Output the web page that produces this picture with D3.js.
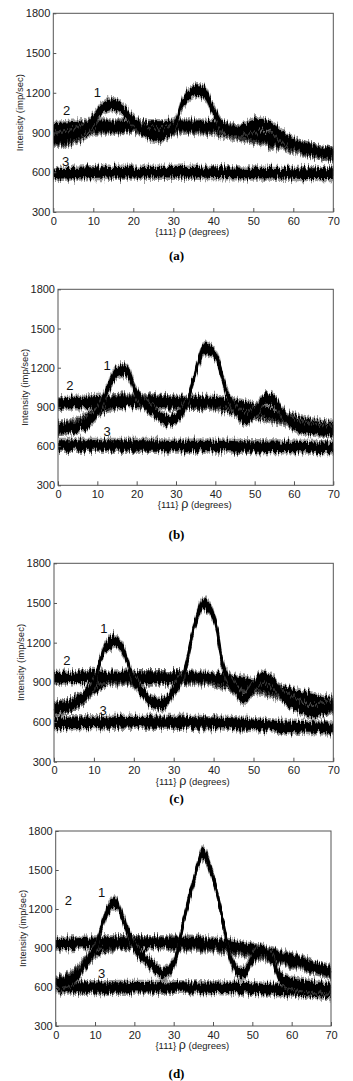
<!DOCTYPE html>
<html>
<head>
<meta charset="utf-8">
<script src="https://cdn.jsdelivr.net/npm/d3@7"></script>
<style>
  html, body { margin: 0; padding: 0; background: #fff; }
  svg { display: block; }
</style>
</head>
<body>
<div id="chart"></div>
<script>
// rho sampling (degrees) shared by all series
const rho = [0, 2.5, 5, 7.5, 10, 12.5, 15, 17.5, 20, 22.5, 25, 27.5, 30, 32.5, 35,
  37.5, 40, 42.5, 45, 47.5, 50, 52.5, 55, 57.5, 60, 62.5, 65, 67.5, 70]
const xTicks = [0, 10, 20, 30, 40, 50, 60, 70]
const yTicks = [300, 600, 900, 1200, 1500, 1800]
const panelNames = ['(a)', '(b)', '(c)', '(d)']
const curveNames = ['1', '2', '3']
// half width of the measurement noise band (imp/sec)
const noiseAmp = 40

// (a)
const a1 = [850, 860, 880, 920, 990, 1085, 1110, 1070, 985, 920, 880, 885, 940, 1130, 1210,
  1205, 1070, 940, 910, 925, 955, 960, 925, 865, 815, 785, 765, 750, 735]
const a2 = [930, 935, 940, 945, 950, 950, 950, 948, 945, 945, 945, 945, 948, 950, 950,
  948, 945, 935, 915, 900, 885, 865, 845, 825, 805, 785, 765, 750, 735]
const a3 = [590, 592, 593, 595, 597, 598, 600, 600, 601, 600, 600, 600, 600, 600, 600,
  598, 597, 596, 595, 594, 594, 593, 592, 592, 591, 590, 590, 590, 590]
const a4 = [840, 845, 860, 895, 930, 940, 945, 945, 940, 935, 930, 930, 935, 940, 940,
  935, 925, 910, 895, 880, 865, 850, 830, 810, 790, 775, 760, 745, 730]
// (b)
const b1 = [736, 740, 750, 785, 865, 1030, 1165, 1170, 1000, 910, 850, 800, 815, 910, 1170,
  1350, 1300, 1050, 880, 810, 855, 960, 945, 830, 765, 740, 730, 720, 715]
const b2 = [925, 928, 930, 932, 935, 938, 940, 940, 940, 940, 940, 938, 935, 935, 935,
  935, 935, 930, 915, 900, 885, 865, 845, 820, 795, 775, 760, 750, 745]
const b3 = [605, 605, 605, 605, 605, 605, 605, 605, 605, 605, 605, 600, 600, 600, 600,
  600, 600, 600, 598, 597, 596, 595, 595, 594, 593, 592, 590, 588, 586]
const b4 = [736, 745, 770, 810, 870, 915, 940, 950, 950, 948, 945, 940, 935, 935, 935,
  930, 920, 900, 880, 860, 850, 840, 825, 805, 780, 760, 745, 730, 720]
// (c)
const c1 = [703, 715, 740, 790, 890, 1140, 1215, 1130, 920, 815, 745, 740, 840, 960, 1300,
  1495, 1400, 1010, 865, 780, 865, 940, 895, 790, 740, 700, 675, 700, 725]
const c2 = [930, 932, 935, 935, 938, 940, 940, 940, 938, 935, 935, 935, 935, 938, 940,
  940, 935, 925, 910, 895, 880, 865, 850, 830, 810, 790, 770, 755, 740]
const c3 = [595, 595, 595, 595, 595, 596, 597, 598, 598, 598, 597, 597, 597, 597, 597,
  596, 595, 592, 588, 584, 580, 575, 570, 566, 562, 560, 558, 556, 555]
const c4 = [700, 715, 740, 790, 860, 905, 925, 930, 935, 935, 935, 935, 935, 935, 930,
  925, 915, 900, 880, 865, 855, 845, 830, 810, 790, 765, 740, 715, 700]
// (d)
const d1 = [628, 641, 680, 780, 890, 1140, 1255, 1090, 910, 820, 755, 705, 780, 1110, 1400,
  1625, 1450, 1110, 780, 705, 810, 885, 810, 660, 630, 615, 605, 595, 585]
const d2 = [930, 932, 935, 938, 940, 942, 942, 942, 942, 940, 940, 940, 940, 938, 938,
  935, 932, 925, 915, 900, 885, 865, 850, 830, 810, 790, 760, 740, 720]
const d3v = [600, 598, 597, 596, 595, 595, 596, 597, 598, 598, 597, 597, 596, 596, 595,
  595, 594, 593, 592, 590, 588, 585, 582, 578, 575, 570, 565, 560, 555]
const d4 = [628, 650, 700, 790, 870, 915, 935, 940, 940, 940, 940, 938, 935, 932, 930,
  925, 915, 905, 895, 880, 870, 855, 840, 820, 800, 780, 755, 735, 715]

// curve label anchors [rho, intensity] for curves 1, 2, 3
const labelsA = [[11, 1200], [3.3, 1070], [3.1, 685]]
const labelsB = [[12.5, 1220], [3.0, 1068], [12.5, 711]]
const labelsC = [[12.5, 1305], [3.2, 1069], [12.3, 691]]
const labelsD = [[11.7, 1330], [3.2, 1265], [11.7, 705]]

const panelSeries = [[a4, a2, a3, a1], [b4, b2, b3, b1], [c4, c2, c3, c1], [d4, d2, d3v, d1]]
const panelLabels = [labelsA, labelsB, labelsC, labelsD]

// plot boxes in pixels
const boxes = [
  {left: 53.3, top: 13.3, width: 280, height: 198.7, caption: 255},
  {left: 58, top: 289.3, width: 275.3, height: 196, caption: 534},
  {left: 54, top: 563.3, width: 279.3, height: 198.4, caption: 798},
  {left: 55.7, top: 831, width: 275.3, height: 195, caption: 1073}
]

const W = 353
const H = 1081
const textColor = '#222'
const axisColor = '#555'

const svg = d3.select('#chart')
  .append('svg')
  .attr('width', W)
  .attr('height', H)
  .attr('viewBox', '0 0 ' + W + ' ' + H)

// vertical jitter so the bands read like noisy counter traces
const filter = svg.append('defs').append('filter')
  .attr('id', 'jitter')
  .attr('filterUnits', 'userSpaceOnUse')
  .attr('x', 0).attr('y', 0).attr('width', W).attr('height', H)
filter.append('feTurbulence')
  .attr('type', 'fractalNoise')
  .attr('baseFrequency', '0.7 0.05')
  .attr('numOctaves', 2)
  .attr('seed', 4)
  .attr('result', 'turb')
const ct = filter.append('feComponentTransfer')
  .attr('in', 'turb')
  .attr('result', 'map')
ct.append('feFuncR').attr('type', 'linear').attr('slope', 0).attr('intercept', 0.5)
ct.append('feFuncA').attr('type', 'linear').attr('slope', 0).attr('intercept', 1)
filter.append('feDisplacementMap')
  .attr('in', 'SourceGraphic')
  .attr('in2', 'map')
  .attr('scale', 12)
  .attr('xChannelSelector', 'R')
  .attr('yChannelSelector', 'G')

boxes.forEach((box, p) => {
  const x = d3.scaleLinear().domain([0, 70]).range([box.left, box.left + box.width])
  const y = d3.scaleLinear().domain([300, 1800]).range([box.top + box.height, box.top])
  const g = svg.append('g').attr('class', 'panel')

  // curves
  const traces = g.append('g').attr('filter', 'url(#jitter)')
  panelSeries[p].forEach(series => {
    const pts = rho.map((r, i) => ({r: r, v: series[i]}))
    const outer = d3.area()
      .x(d => x(d.r))
      .y0(d => y(d.v - noiseAmp * 1.45))
      .y1(d => y(d.v + noiseAmp * 1.45))
      .curve(d3.curveCatmullRom)
    const inner = d3.area()
      .x(d => x(d.r))
      .y0(d => y(d.v - noiseAmp))
      .y1(d => y(d.v + noiseAmp))
      .curve(d3.curveCatmullRom)
    const line = d3.line()
      .x(d => x(d.r))
      .y(d => y(d.v))
      .curve(d3.curveCatmullRom)
    traces.append('path').attr('d', outer(pts)).attr('fill', '#555').attr('opacity', 0.6)
    traces.append('path').attr('d', inner(pts)).attr('fill', '#000')
    traces.append('path').attr('d', line(pts))
      .attr('fill', 'none').attr('stroke', '#000').attr('stroke-width', 2.8)
  })

  // frame
  g.append('rect')
    .attr('x', box.left).attr('y', box.top)
    .attr('width', box.width).attr('height', box.height)
    .attr('fill', 'none').attr('stroke', axisColor).attr('stroke-width', 1)

  const xAxis = g.append('g')
    .attr('transform', 'translate(0,' + (box.top + box.height) + ')')
    .call(d3.axisBottom(x).tickValues(xTicks).tickFormat(d3.format('d'))
      .tickSizeInner(-4).tickSizeOuter(0).tickPadding(5))
  const yAxis = g.append('g')
    .attr('transform', 'translate(' + box.left + ',0)')
    .call(d3.axisLeft(y).tickValues(yTicks).tickFormat(d3.format('d'))
      .tickSizeInner(-3).tickSizeOuter(0).tickPadding(3))
  ;[xAxis, yAxis].forEach(ax => {
    ax.select('.domain').remove()
    ax.selectAll('line').attr('stroke', axisColor)
    ax.selectAll('text')
      .attr('fill', textColor)
      .style('font-family', 'Liberation Sans, Arial, sans-serif')
      .style('font-size', '11px')
  })

  // axis titles
  g.append('text')
    .attr('transform', 'translate(' + (box.left - 33.5) + ',' + (box.top + box.height / 2) + ') rotate(-90)')
    .attr('text-anchor', 'middle')
    .attr('dy', '0.35em')
    .attr('fill', textColor)
    .style('font-family', 'Liberation Sans, Arial, sans-serif')
    .style('font-size', '9.5px')
    .text('Intensity (imp/sec)')

  const xt = g.append('text')
    .attr('x', box.left + box.width / 2 - 1)
    .attr('y', box.top + box.height + 19.5)
    .attr('dy', '0.35em')
    .attr('text-anchor', 'middle')
    .attr('fill', textColor)
    .style('font-family', 'Liberation Sans, Arial, sans-serif')
    .style('font-size', '9.5px')
  xt.append('tspan').text('{111} ')
  xt.append('tspan').style('font-size', '12.5px').text('ρ')
  xt.append('tspan').text(' (degrees)')

  // curve numbers
  g.selectAll('.curve-label')
    .data(panelLabels[p])
    .enter()
    .append('text')
    .attr('class', 'curve-label')
    .attr('x', d => x(d[0]))
    .attr('y', d => y(d[1]))
    .attr('dy', '0.36em')
    .attr('text-anchor', 'middle')
    .attr('fill', '#111')
    .style('font-family', 'Liberation Sans, Arial, sans-serif')
    .style('font-size', '13px')
    .text((d, i) => curveNames[i])

  // panel caption
  g.append('text')
    .attr('x', W / 2)
    .attr('y', box.caption)
    .attr('dy', '0.35em')
    .attr('text-anchor', 'middle')
    .attr('fill', '#000')
    .style('font-family', 'Liberation Serif, Times New Roman, serif')
    .style('font-weight', 'bold')
    .style('font-size', '13px')
    .text(panelNames[p])
})
</script>
</body>
</html>
